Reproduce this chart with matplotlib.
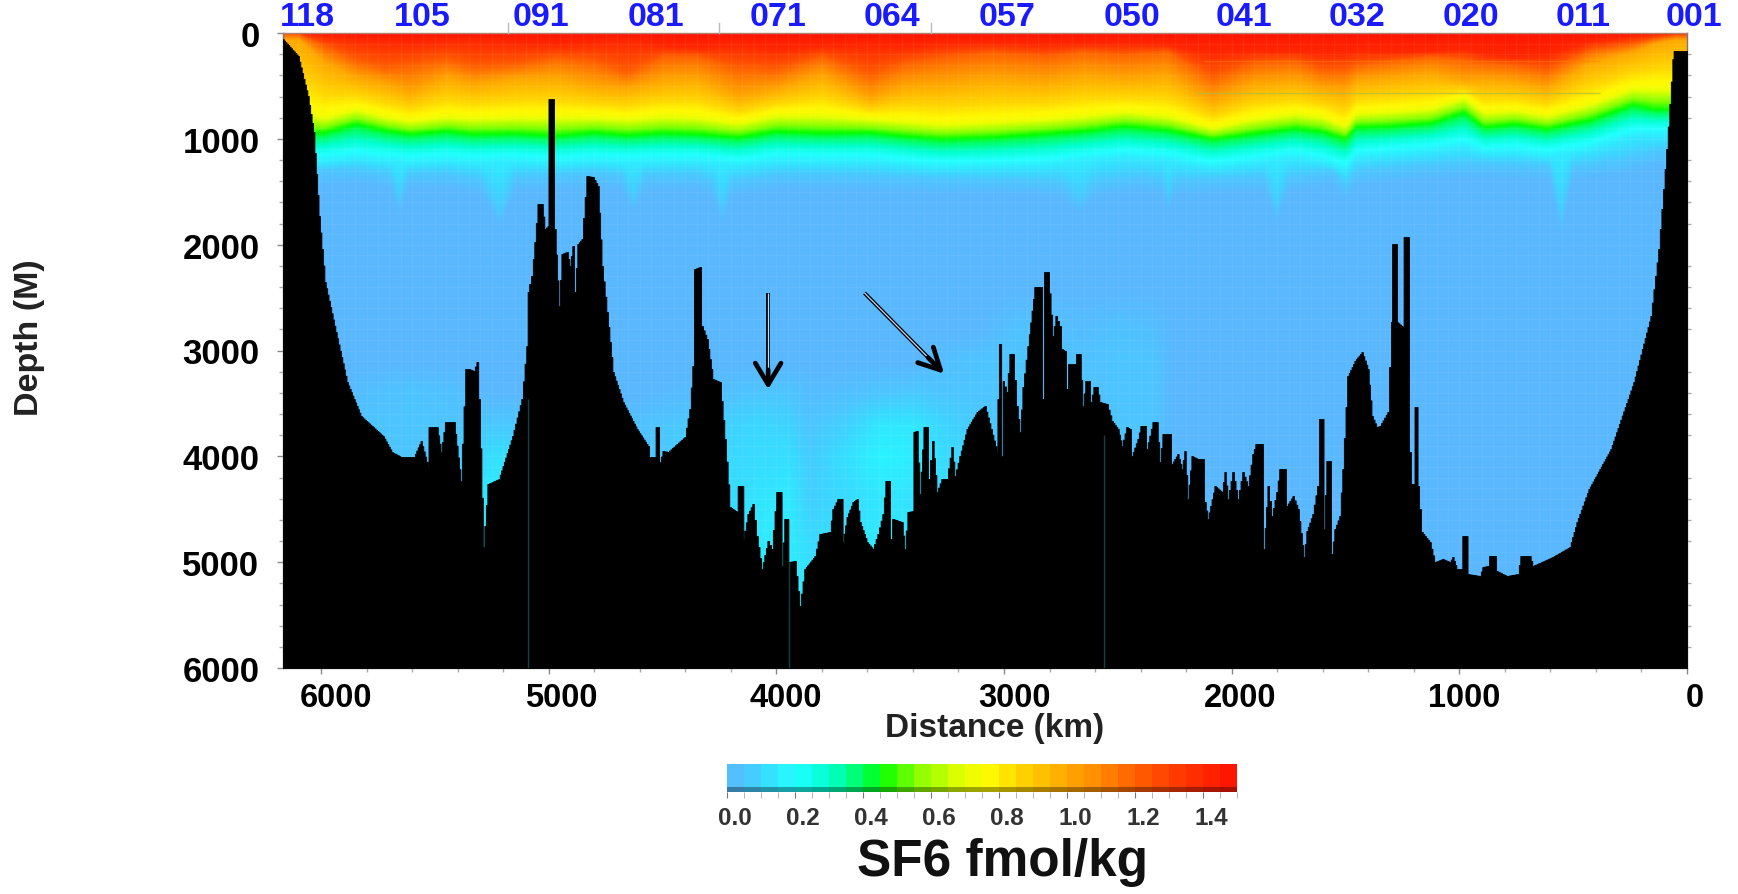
import numpy as np
import matplotlib
matplotlib.use("Agg")
import matplotlib.pyplot as plt
from matplotlib.colors import LinearSegmentedColormap
from matplotlib.transforms import ScaledTranslation

plt.rcParams['font.family'] = ['Liberation Sans', 'DejaVu Sans']
plt.rcParams['font.weight'] = 'bold'

# bottom profile (distance km, depth m)
bottom_km = [6167,6100,6057,6032,6008,5982,5934,5885,5824,5727,5688,5648,5591,5560,5529,5527,5490,5472,5453,5415,5385,5363,5349,5328,5314,5305,5286,5266,5218,5158,5117,5095,5090,5073,5060,5046,5029,5016,5002,5000,4981,4972,4954,4941,4919,4906,4893,4884,4871,4853,4831,4805,4783,4765,4743,4717,4673,4612,4563,4555,4533,4528,4519,4511,4497,4475,4436,4401,4379,4366,4357,4335,4326,4304,4278,4247,4225,4203,4172,4168,4146,4144,4124,4102,4085,4063,4036,4019,3997,3979,3975,3962,3948,3946,3918,3896,3874,3830,3808,3764,3751,3729,3711,3707,3689,3663,3645,3632,3601,3575,3553,3531,3518,3505,3496,3487,3448,3435,3421,3399,3397,3382,3369,3351,3338,3329,3312,3294,3272,3250,3228,3215,3193,3162,3118,3083,3030,3028,3017,3008,3004,2987,2973,2960,2943,2929,2916,2894,2864,2837,2828,2820,2806,2785,2771,2754,2745,2732,2723,2714,2688,2679,2666,2653,2640,2626,2618,2604,2591,2578,2547,2525,2499,2481,2460,2446,2438,2411,2398,2380,2372,2345,2328,2315,2301,2271,2262,2236,2218,2205,2192,2174,2148,2126,2117,2104,2073,2042,2029,2016,1994,1972,1950,1928,1906,1893,1867,1858,1840,1823,1801,1788,1766,1757,1730,1708,1682,1669,1643,1621,1612,1599,1594,1581,1568,1559,1546,1524,1511,1489,1458,1427,1401,1383,1362,1348,1313,1296,1295,1274,1273,1247,1243,1225,1217,1208,1199,1195,1186,1181,1164,1129,1107,1072,1041,1028,1010,988,986,966,962,909,896,874,865,843,834,791,742,729,690,676,589,514,483,430,334,233,158,123,88,61,57,0]
bottom_m = [57,217,595,935,1729,2353,2825,3298,3619,3808,3959,4006,4006,3855,4101,3723,3723,3959,3676,3676,4233,3175,3175,3194,3109,3458,4857,4262,4214,3808,3458,2958,2447,2296,1975,1616,1616,1852,1824,624,624,1852,2580,2088,2069,2202,2013,2447,1994,1946,1351,1361,1446,2202,2636,3203,3487,3742,3902,4006,4006,3723,3723,4054,3950,3959,3884,3817,3553,3147,2230,2211,2769,2891,3269,3298,3836,4479,4526,4280,4280,4781,4545,4450,4753,5065,4800,4876,4337,4337,5036,4592,4592,4999,4989,5414,5065,4942,4734,4715,4498,4403,4403,4810,4573,4432,4403,4621,4810,4876,4734,4545,4233,4233,4781,4592,4621,4876,4526,4517,3770,3761,4356,3723,3723,4214,3855,4337,4214,4214,3912,4186,3997,3742,3581,3524,3959,3458,2939,3997,3288,3392,3033,3033,3524,3770,3345,2958,2400,2400,3458,2258,2258,2863,2674,2769,2986,3005,3364,3128,3128,3033,3033,3524,3288,3288,3487,3345,3345,3487,3506,3666,3742,3902,3723,3742,3997,3836,3713,3713,3931,3676,3676,4054,3789,3789,4073,3978,4120,3950,4403,3997,4025,4025,4432,4592,4280,4337,4148,4403,4148,4403,4148,4280,3978,3884,3884,4876,4280,4564,4337,4120,4120,4469,4375,4498,4951,4706,4545,4280,3647,3647,4687,4044,4044,4923,4687,4564,4120,3241,3099,3014,3175,3619,3723,3713,3581,2731,1994,1994,2731,2778,1928,1928,3959,4262,4262,3534,3534,4280,4715,4810,4999,4970,4999,4951,5065,5065,4753,4753,5112,5131,5046,5036,4942,4942,5084,5131,5112,4942,4942,5036,4951,4857,4621,4309,3931,3298,2674,2041,1096,246,170,170]

# depth of the tracer isopleths along the section
iso_km = [6100,5990,5850,5720,5610,5450,5336,5150,4970,4800,4656,4500,4350,4168,4000,3800,3588,3430,3272,3050,2810,2650,2468,2280,2082,1900,1717,1600,1497,1450,1300,1120,975,887,750,610,420,233,136,50]
iso_140 = [0,30,60,80,90,70,70,90,110,90,70,120,140,110,150,120,120,130,100,90,110,100,100,110,190,170,170,190,190,170,180,170,150,200,220,200,80,30,10,0]
iso_120 = [10,120,260,330,300,250,320,300,230,270,380,220,220,330,350,220,400,280,230,180,220,170,200,170,420,280,260,350,350,300,260,220,250,280,300,350,160,100,50,20]
iso_100 = [60,280,420,480,560,420,480,430,420,500,520,450,430,600,530,400,620,500,480,430,460,400,430,400,640,480,450,520,540,450,420,380,450,440,460,520,280,180,100,60]
iso_075 = [700,780,700,770,810,770,780,770,770,770,790,760,770,830,750,750,790,810,840,820,790,760,720,760,880,790,740,770,860,740,720,690,590,730,710,760,650,500,500,500]
iso_045 = [960,940,860,920,955,925,955,950,970,940,965,945,955,985,930,945,940,975,1000,985,950,925,880,915,1000,950,900,930,1000,890,880,850,750,890,860,905,820,680,720,720]
iso_020 = [1130,1130,1090,1120,1140,1120,1140,1130,1150,1130,1140,1130,1130,1170,1120,1130,1130,1160,1190,1180,1160,1120,1080,1110,1190,1140,1090,1130,1210,1090,1060,1030,980,1060,1040,1080,1010,880,880,880]
iso_010 = [1210,1220,1180,1210,1230,1210,1230,1220,1240,1220,1230,1220,1220,1250,1210,1220,1220,1250,1270,1260,1250,1210,1170,1200,1270,1230,1180,1220,1290,1180,1150,1120,1070,1140,1130,1170,1100,970,970,970]
iso_values = [1.48,1.40,1.20,1.00,0.75,0.45,0.22,0.15,0.06,0.0,0.0]

edge_km = [6100,5850,5700,5660,5620,5450,5300,5218,5150,4970,4800,4680,4630,4580,4350,4280,4240,4200,4000,3800,3588,3272,2950,2750,2666,2600,2400,2300,2275,2250,2100,1850,1800,1750,1550,1497,1450,1200,950,600,549,500,300,100,20]
edge_005 = [1300,1280,1330,1570,1330,1320,1380,1690,1350,1340,1310,1340,1560,1340,1330,1400,1660,1400,1330,1330,1340,1370,1380,1400,1570,1400,1340,1380,1570,1380,1370,1350,1660,1350,1300,1440,1300,1250,1220,1250,1760,1250,1200,1100,1100]

# weak deep signal below the main thermocline
deep_km = [6000,5800,5600,5400,5250,5150,4800,4600,4250,4100,3950,3850,3700,3550,3400,3250,3100,2950,2800,2650,2500,2350,2250]
deep_m = [2400,2800,3100,3400,3700,4000,4400,5000,5500]
deep_vals = np.array([
    [0,0,0,0,0,0,0,0,0,0,0,0,0,0,0,0,0,0,0,0,0,0,0],
    [0,0,0,0,0,0,0,0,0,0,0,0,0,0,0,0,0,.04,.04,.02,.04,.03,0],
    [0,0,0,0,0,0,0,0,0,0,0,0,0,0,0,.03,.05,.05,.05,.04,.05,.05,0],
    [0,.03,.05,.03,0,0,0,0,.03,.05,.05,.02,.03,.05,.06,.05,.05,.05,.05,.04,.05,.05,0],
    [0,.05,.05,.05,.06,.06,.02,.04,.08,.10,.09,.05,.08,.14,.14,.09,.06,.05,.05,.04,.05,.05,0],
    [0,.05,.05,.07,.12,.12,.03,.04,.10,.11,.12,.07,.12,.17,.16,.11,.09,.05,.05,.04,.04,.03,0],
    [0,.05,.05,.10,.16,.16,.03,.04,.11,.13,.15,.08,.11,.14,.13,.11,.09,.05,.05,.04,.03,.02,0],
    [0,.05,.05,.10,.16,.16,.03,.04,.12,.15,.16,.12,.13,.15,.14,.12,.10,.05,.05,.04,.03,.02,0],
    [0,.05,.05,.10,.16,.16,.03,.04,.12,.15,.16,.14,.13,.15,.14,.12,.10,.05,.05,.04,.03,.02,0],
])

station_labels = ['118','105','091','081','071','064','057','050','041','032','020','011','001']
station_km = [6061,5556,5033,4528,3992,3492,2987,2438,1946,1449,949,457,-31]
top_ticks_km = [5178,4250,3320]
dist_ticks = [6000,5000,4000,3000,2000,1000,0]
dist_label_shift = [15,13,9,10,8,5,8]
depth_ticks = [0,1000,2000,3000,4000,5000,6000]
seam_km = [5090,3944,2560]
seam_top_m = [3458,5000,3800]

cbar_edges = np.arange(0,1.55,0.05)
cbar_ticks = [0.0,0.2,0.4,0.6,0.8,1.0,1.2,1.4]

anchors = [(0.0,'#5ab8ff'),(0.05,'#4cc6ff'),(0.1,'#3ad8ff'),(0.2,'#22ffff'),(0.3,'#00ffcc'),
           (0.4,'#00ff60'),(0.45,'#00ff00'),(0.55,'#80ff00'),(0.7,'#eaff00'),(0.78,'#fff800'),
           (0.85,'#ffd800'),(1.0,'#ffa800'),(1.1,'#ff8800'),(1.25,'#ff5000'),(1.4,'#ff2800'),(1.5,'#ff1000')]
cmap = LinearSegmentedColormap.from_list('sf6', [(v/1.5,c) for v,c in anchors], N=256)

# grid the isopleths onto a section
grid_km = np.arange(0,6180,10.)
grid_m = np.arange(0,6010,10.)
def along(km, vals):
    return np.interp(grid_km, km[::-1], vals[::-1])
stack = [np.zeros_like(grid_km), along(iso_km,iso_140), along(iso_km,iso_120), along(iso_km,iso_100),
         along(iso_km,iso_075), along(iso_km,iso_045), along(iso_km,iso_020), along(iso_km,iso_010)]
stack.append(np.maximum(along(edge_km,edge_005), stack[-1]+30))
stack.append(stack[-1]+150)
stack.append(np.full_like(grid_km,6100.))
stack = np.array(stack)
field = np.zeros((len(grid_m),len(grid_km)))
for j in range(len(grid_km)):
    field[:,j] = np.interp(grid_m, stack[:,j], iso_values)
rows = np.array([np.interp(grid_km, deep_km[::-1], r[::-1]) for r in deep_vals])
deep = np.array([np.interp(grid_m, deep_m, rows[:,j], left=0) for j in range(len(grid_km))]).T
field = np.maximum(field, deep)

# long gaps get sloped, short ones stay as the blocky soundings
fill_km, fill_m = [], []
for i in range(len(bottom_km)-1):
    n = max(1, int(abs(bottom_km[i+1]-bottom_km[i])//6))
    fill_km.extend(np.linspace(bottom_km[i], bottom_km[i+1], n, endpoint=False))
    fill_m.extend(np.linspace(bottom_m[i], bottom_m[i+1], n, endpoint=False))
fill_km.append(bottom_km[-1])
fill_m.append(bottom_m[-1])

W, H = 1738, 895
fig = plt.figure(figsize=(W/100,H/100), dpi=100)
ax = fig.add_axes([283/W, 1-669/H, (1687-283)/W, (669-34)/H])
ax.imshow(field, extent=[grid_km[0],grid_km[-1],grid_m[-1],grid_m[0]], cmap=cmap, vmin=0, vmax=1.5,
          aspect='auto', interpolation='bilinear', zorder=1)
ax.vlines(np.arange(0,6200,50), 0, 6000, color='white', lw=1, alpha=0.05, zorder=2)
ax.hlines(np.arange(0,6000,100), 0, 6167, color='white', lw=1, alpha=0.05, zorder=2)
ax.hlines(567, 382, 2152, color='#a8c040', lw=1, alpha=0.7, zorder=2)
ax.hlines(265, 382, 2120, color='#ff8000', lw=1, alpha=0.5, zorder=2)
ax.fill_between(fill_km, fill_m, 6000, color='black', lw=0.6, step='mid', zorder=3)
for k, t in zip(seam_km, seam_top_m):
    ax.vlines(k, t, 6000, color='#12404a', lw=1, zorder=4)

ax.set_xlim(6167,0)
ax.set_ylim(6000,0)
ax.set_xticks(dist_ticks)
ax.set_yticks(depth_ticks)
ax.set_xticks(np.arange(200,6100,200), minor=True)
ax.set_yticks(np.arange(200,6000,200), minor=True)
ax.tick_params(axis='x', which='major', length=4, width=1, color='#888888', pad=6, labelsize=23.5)
ax.tick_params(axis='y', which='major', length=4, width=1, color='#888888', pad=13, labelsize=25)
ax.tick_params(which='minor', length=3, width=1, color='#aaaaaa', right=True)
for lbl, dx in zip(ax.get_xticklabels(), dist_label_shift):
    lbl.set_transform(lbl.get_transform()+ScaledTranslation(dx/100, 0, fig.dpi_scale_trans))
for s in ax.spines.values():
    s.set_color('#777777')
    s.set_linewidth(1)
ax.spines['top'].set_color('#b08070')

for k in top_ticks_km:
    ax.plot([k,k],[0,-90], color='#bbbbbb', lw=1, clip_on=False, zorder=5)
for k, s in zip(station_km, station_labels):
    ax.text(k, -8, s, color='#1a1aff', fontsize=24.5, ha='center', va='bottom', clip_on=False)

# the two double-lined arrows
for x0,y0,x1,y1,hw in [(4036,2456,4036,3365,0.42),(3613,2456,3263,3220,0.36)]:
    ax.plot([x0,x0+(x1-x0)*0.95],[y0,y0+(y1-y0)*0.95], color='black', lw=2.8, solid_capstyle='butt', zorder=6)
    ax.plot([x0,x0+(x1-x0)*0.93],[y0,y0+(y1-y0)*0.93], color='#b8e0ff', lw=0.9, solid_capstyle='butt', zorder=7)
    ax.annotate('', xy=(x1,y1), xytext=(x0+(x1-x0)*0.8,y0+(y1-y0)*0.8), zorder=8,
                arrowprops=dict(arrowstyle='->,head_length=0.7,head_width=%.2f' % hw, color='black', lw=3.4,
                                mutation_scale=22, shrinkA=0, shrinkB=0))

fig.text(30/W, 1-338/H, 'Depth (M)', rotation=90, fontsize=24.5, ha='center', va='center', color='#222222')
fig.text(995/W, 1-728/H, 'Distance (km)', fontsize=24, ha='center', va='center', color='#222222')
fig.text(1002/W, 1-863/H, 'SF6 fmol/kg', fontsize=37, ha='center', va='center', color='#111111')

cax = fig.add_axes([727/W, 1-793/H, (1237-727)/W, (793-765)/H])
cax.pcolormesh(cbar_edges, [0,1], [cbar_edges[:-1]+0.025], cmap=cmap, vmin=0, vmax=1.5)
cax.axhspan(0, 0.17, color='black', alpha=0.35, lw=0)
cax.set_xlim(0,1.5)
cax.set_ylim(0,1)
cax.set_yticks([])
cax.set_xticks(cbar_ticks)
cax.set_xticklabels(['%.1f' % t for t in cbar_ticks])
cax.set_xticks(cbar_edges, minor=True)
cax.tick_params(axis='x', which='major', length=4, color='#777777', pad=6, labelsize=17.5, labelcolor='#333333')
cax.tick_params(axis='x', which='minor', length=4, color='#aaaaaa')
for lbl in cax.get_xticklabels():
    lbl.set_transform(lbl.get_transform()+ScaledTranslation(8/100, 0, fig.dpi_scale_trans))
for s in cax.spines.values():
    s.set_visible(False)

fig.savefig('out.png', dpi=100)
